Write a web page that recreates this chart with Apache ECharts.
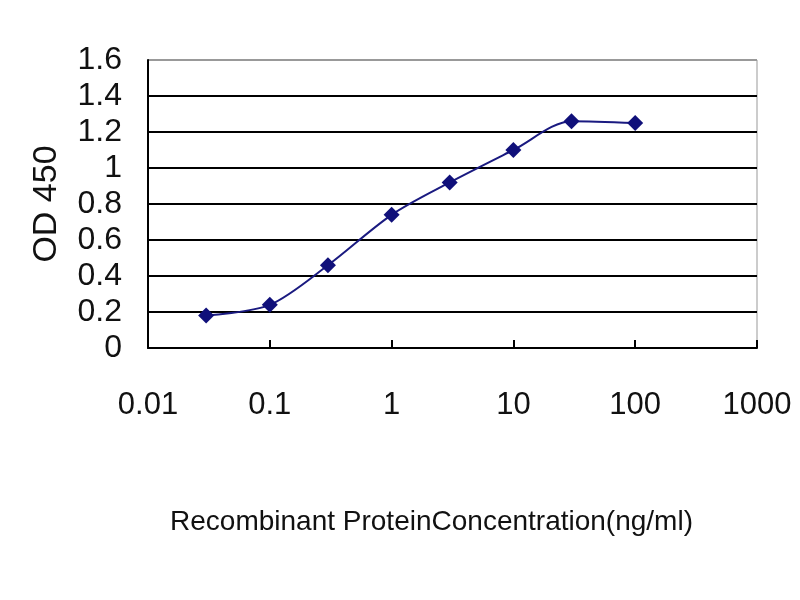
<!DOCTYPE html>
<html>
<head>
<meta charset="utf-8">
<script src="https://cdn.jsdelivr.net/npm/echarts@6/dist/echarts.min.js"></script>
<style>html,body{margin:0;padding:0;background:#fff;}#c{width:800px;height:600px;}</style>
</head>
<body>
<div id="c"></div>
<script>
var concentrations = [0.03, 0.1, 0.3, 1, 3, 10, 30, 100];
var od450 = [0.18, 0.24, 0.46, 0.74, 0.92, 1.10, 1.26, 1.25];
var xAxisTitle = 'Recombinant ProteinConcentration(ng/ml)';
var yAxisTitle = 'OD 450';

var points = concentrations.map(function (c, i) { return [c, od450[i]]; });
var chart = echarts.init(document.getElementById('c'));
var font = '"Liberation Sans", Arial, sans-serif';
chart.setOption({
  backgroundColor: '#fff',
  animation: false,
  grid: { left: 148, right: 43, top: 60, bottom: 252, show: true, borderColor: '#999', borderWidth: 1 },
  xAxis: {
    type: 'log', logBase: 10, min: 0.01, max: 1000,
    axisLine: { show: true, lineStyle: { color: '#000', width: 2 } },
    axisTick: { show: true, inside: true, length: 8, lineStyle: { color: '#000', width: 2 } },
    splitLine: { show: false },
    minorTick: { show: false },
    axisLabel: { color: '#111', fontSize: 31, fontFamily: font, margin: 42,
      formatter: function (v) { return String(Number(v.toPrecision(3))); } },
    name: xAxisTitle, nameLocation: 'middle', nameGap: 160,
    nameTextStyle: { color: '#111', fontSize: 28, fontFamily: font, padding: [0, 42, 0, 0] }
  },
  yAxis: {
    type: 'value', min: 0, max: 1.6, interval: 0.2,
    axisLine: { show: true, lineStyle: { color: '#000', width: 2 } },
    axisTick: { show: false },
    splitLine: { show: true, lineStyle: { color: ['#000','#000','#000','#000','#000','#000','#000','#000','#999'], width: 2 } },
    axisLabel: { color: '#111', fontSize: 32, fontFamily: font, margin: 26,
      formatter: function (v) { return String(Number(v.toFixed(1))); } },
    name: yAxisTitle, nameLocation: 'middle', nameGap: 84, nameRotate: 90,
    nameTextStyle: { color: '#111', fontSize: 34, fontFamily: font }
  },
  series: [{
    type: 'line', data: points, smooth: 0.3,
    symbol: 'diamond', symbolSize: 16,
    lineStyle: { color: '#1a1a80', width: 2 },
    itemStyle: { color: '#10107a' }
  }]
});
</script>
</body>
</html>
